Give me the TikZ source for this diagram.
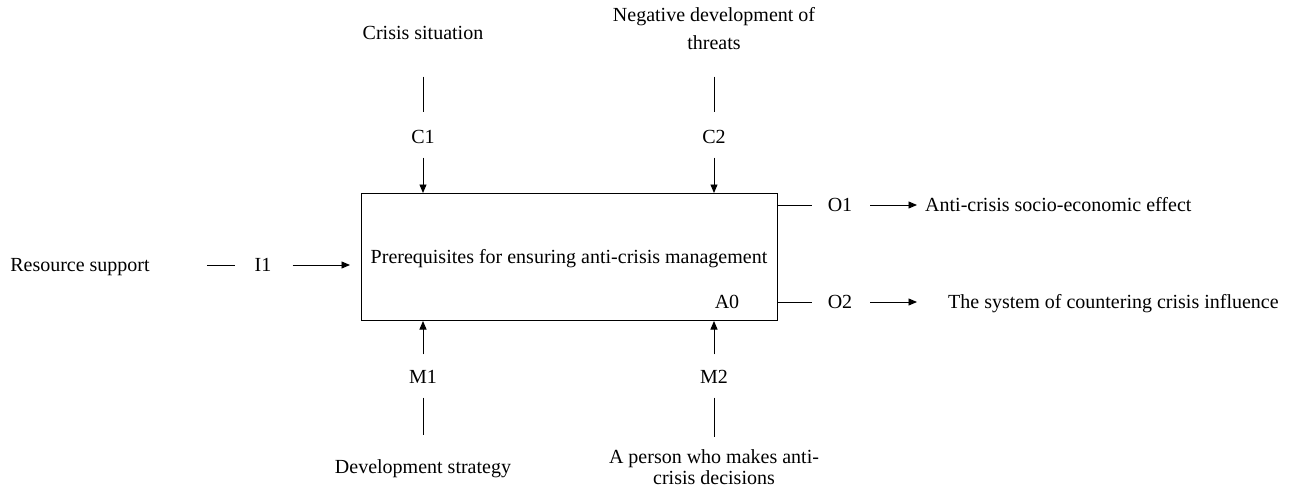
\documentclass[tikz,border=0pt]{standalone}
\usepackage{fontspec}
\setmainfont{Liberation Serif}
\usetikzlibrary{arrows.meta}
\begin{document}
\begin{tikzpicture}[x=1pt,y=-1pt,
  lbl/.style={inner sep=0pt, text height=16pt, text depth=3pt, font=\fontsize{20}{24}\selectfont},
  mlbl/.style={inner sep=0pt, align=center, font=\fontsize{20}{20}\selectfont},
  ln/.style={line width=0.9pt},
  arr/.style={line width=0.9pt, -{Triangle[length=8.5pt,width=7pt]}},
  boxst/.style={draw, line width=1pt, minimum width=416pt, minimum height=127pt, inner sep=0pt}]
\useasboundingbox[fill=white] (0,0) rectangle (1298,487);
% main box
\node[boxst, anchor=north west] (box) at (361,193) {};
\node[lbl] (title) at (569,257) {Prerequisites for ensuring anti-crisis management};
\node[lbl] (a0) at (727,302) {A0};
% controls
\node[lbl] (csit) at (423,33) {Crisis situation};
\node[lbl] (c1) at (423,137) {C1};
\node[mlbl, anchor=north] (neg) at (714,7) {Negative development of\\[8pt]threats};
\node[lbl] (c2) at (714,137) {C2};
\draw[ln, shorten <=34pt, shorten >=15pt] (csit) -- (c1);
\draw[ln, shorten <=27pt, shorten >=15pt] (neg) -- (c2);
\draw[arr, shorten <=11pt] (c1) -- (c1 |- box.north);
\draw[arr, shorten <=11pt] (c2) -- (c2 |- box.north);
% mechanisms
\node[lbl] (m1) at (423,377) {M1};
\node[lbl] (m2) at (714,377) {M2};
\node[lbl] (dev) at (423,467) {Development strategy};
\node[mlbl, anchor=south] (pers) at (714,485) {A person who makes anti-\\[1pt]crisis decisions};
\draw[arr, shorten <=13pt] (m1) -- (m1 |- box.south);
\draw[arr, shorten <=13pt] (m2) -- (m2 |- box.south);
\draw[ln, shorten <=11pt, shorten >=22pt] (m1) -- (dev);
\draw[ln, shorten <=11pt, shorten >=13pt] (m2) -- (pers);
% input
\node[lbl] (rs) at (80,265) {Resource support};
\node[lbl] (i1) at (263,265) {I1};
\draw[ln, shorten <=57pt, shorten >=19pt] (rs) -- (i1);
\draw[arr, shorten <=21pt, shorten >=11pt] (i1) -- (i1 -| box.west);
% outputs
\node[lbl] (o1) at (840,205) {O1};
\node[lbl] (o2) at (840,302) {O2};
\node[lbl, anchor=west] (out1) at (925,205) {Anti-crisis socio-economic effect};
\node[lbl, anchor=west] (out2) at (948,302) {The system of countering crisis influence};
\draw[ln, shorten >=16pt] (box.east |- o1) -- (o1);
\draw[ln, shorten >=16pt] (box.east |- o2) -- (o2);
\draw[arr, shorten <=18pt, shorten >=8pt] (o1) -- (out1);
\draw[arr, shorten <=18pt, shorten >=31pt] (o2) -- (out2);
\end{tikzpicture}
\end{document}
